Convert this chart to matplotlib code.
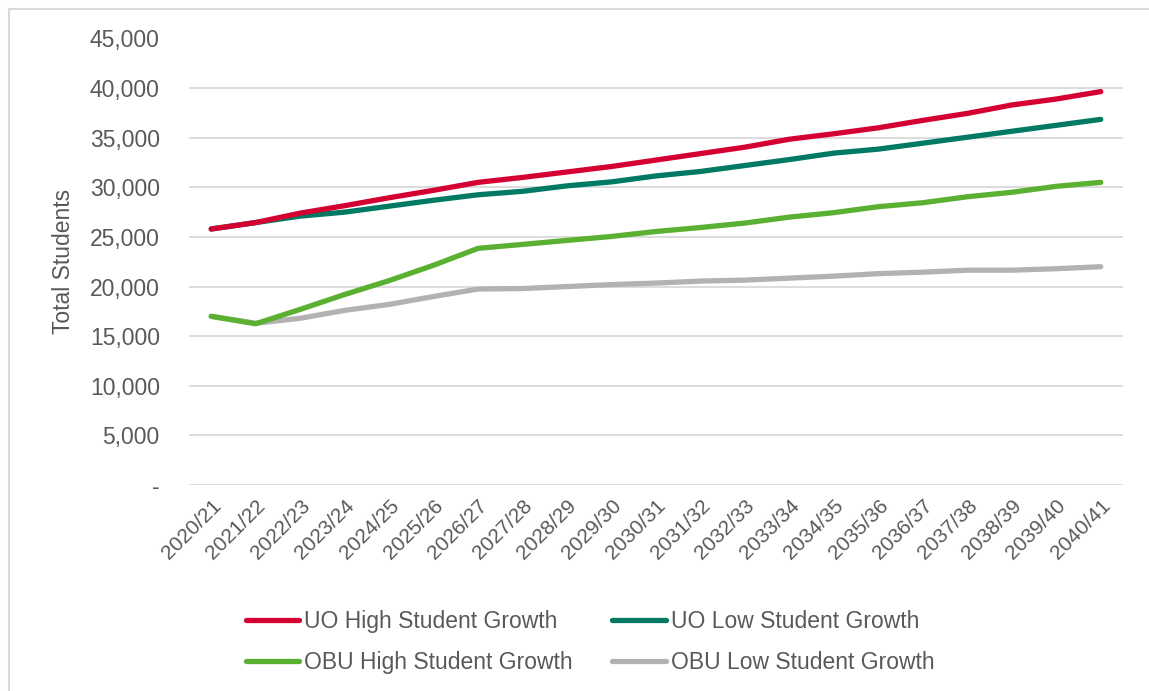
import matplotlib.pyplot as plt
from matplotlib.patches import Rectangle
from matplotlib.ticker import FuncFormatter

plt.rcParams['font.family'] = ['Liberation Sans', 'DejaVu Sans']

years = ['2020/21', '2021/22', '2022/23', '2023/24', '2024/25', '2025/26', '2026/27',
         '2027/28', '2028/29', '2029/30', '2030/31', '2031/32', '2032/33', '2033/34',
         '2034/35', '2035/36', '2036/37', '2037/38', '2038/39', '2039/40', '2040/41']

uo_high = [25800, 26450, 27400, 28150, 28950, 29700, 30500, 31000, 31550, 32100, 32750,
           33400, 34050, 34850, 35400, 36000, 36750, 37450, 38300, 38900, 39650]
uo_low = [25800, 26450, 27100, 27500, 28100, 28700, 29250, 29600, 30150, 30550, 31150,
          31600, 32200, 32800, 33450, 33850, 34450, 35050, 35650, 36250, 36850]
obu_high = [17000, 16250, 17700, 19200, 20600, 22150, 23850, 24250, 24650, 25050, 25550,
            25950, 26400, 27000, 27450, 28050, 28450, 29050, 29500, 30100, 30500]
obu_low = [17000, 16300, 16800, 17600, 18200, 19000, 19750, 19800, 20000, 20200, 20350,
           20550, 20650, 20850, 21050, 21300, 21450, 21650, 21650, 21800, 22000]

series = [
    ('UO High Student Growth', uo_high, '#D50032'),
    ('UO Low Student Growth', uo_low, '#007A63'),
    ('OBU High Student Growth', obu_high, '#59B031'),
    ('OBU Low Student Growth', obu_low, '#B2B2B2'),
]

txt = '#595959'
fig = plt.figure(figsize=(11.49, 6.91), dpi=100)
ax = fig.add_axes([189 / 1149, 1 - 485 / 691, (1123 - 189) / 1149, (485 - 38.5) / 691])

x = list(range(len(years)))
handles = {}
# draw low lines first so high lines sit on top where they overlap
for name, vals, col in [series[3], series[2], series[1], series[0]]:
    h, = ax.plot(x, vals, color=col, lw=3.8, solid_capstyle='round', label=name)
    handles[name] = h

ax.set_xlim(-0.5, len(years) - 0.5)
ax.set_ylim(0, 45000)
ax.set_yticks(range(0, 45001, 5000))
ax.yaxis.set_major_formatter(FuncFormatter(lambda v, p: '-' if v == 0 else f'{int(v):,}'))
ax.set_xticks(x)
ax.set_xticklabels(years, rotation=45, ha='right', rotation_mode='anchor')
ax.tick_params(axis='both', length=0, colors=txt)
ax.tick_params(axis='y', pad=21, labelsize=16.5)
ax.tick_params(axis='x', pad=8, labelsize=15)
ax.grid(axis='y', color='#D9D9D9', lw=1.3)
ax.set_axisbelow(True)
for s in ax.spines.values():
    s.set_visible(False)
ax.set_ylabel('Total Students', fontsize=16.5, color=txt, labelpad=11)

order = ['UO High Student Growth', 'OBU High Student Growth',
         'UO Low Student Growth', 'OBU Low Student Growth']
leg = fig.legend([handles[n] for n in order], order, ncol=2, loc='center',
                 bbox_to_anchor=(590 / 1149, 1 - 642 / 691), frameon=False,
                 fontsize=16.5, handlelength=2.35, handletextpad=0.22,
                 columnspacing=1.7, labelspacing=0.8)
for t in leg.get_texts():
    t.set_color(txt)

# outer chart frame
fig.patches.append(Rectangle((9 / 1149, -0.1), 1.2, 1 - 9 / 691 + 0.1,
                             transform=fig.transFigure, fill=False,
                             edgecolor='#D9D9D9', lw=1.5))

fig.savefig('out.png', dpi=100)
